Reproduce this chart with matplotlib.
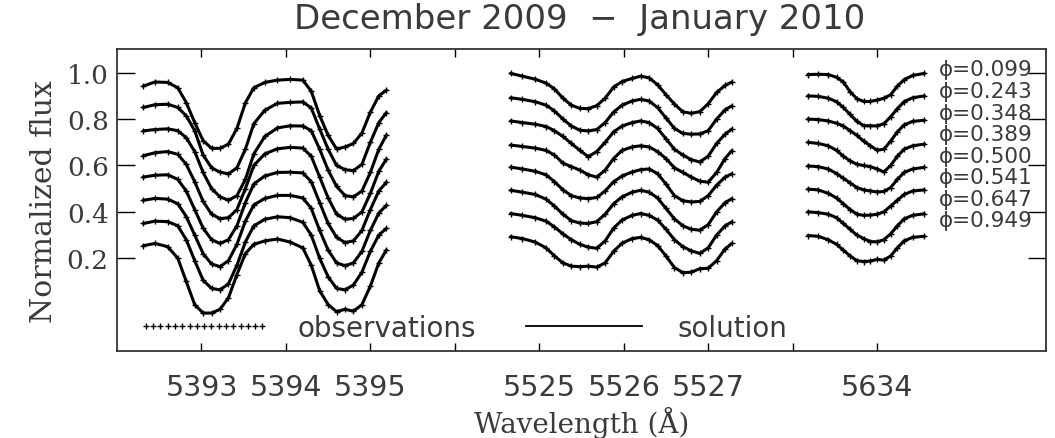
import numpy as np
import matplotlib
matplotlib.use("Agg")
import matplotlib.pyplot as plt
from matplotlib.lines import Line2D

# Rotational phases of the observed spectra (top to bottom)
phases = ["0.099", "0.243", "0.348", "0.389", "0.500", "0.541", "0.647", "0.949"]

# --- Fe I 5393 region -------------------------------------------------------
wl_5393 = [5392.31, 5392.45, 5392.60, 5392.72, 5392.82, 5392.92, 5393.02, 5393.12,
           5393.22, 5393.32, 5393.42, 5393.52, 5393.62, 5393.75, 5393.90, 5394.05,
           5394.20, 5394.30, 5394.40, 5394.50, 5394.60, 5394.70, 5394.80, 5394.90,
           5395.00, 5395.10, 5395.19]
flux_5393 = [
    [.942, .960, .958, .935, .871, .785, .707, .674, .674, .692, .760, .870, .935, .958,
     .968, .971, .968, .920, .815, .730, .671, .680, .695, .740, .830, .900, .925],
    [.950, .962, .964, .950, .914, .850, .745, .690, .671, .664, .690, .770, .880, .938,
     .968, .972, .974, .948, .857, .770, .700, .682, .678, .705, .800, .885, .928],
    [.949, .955, .958, .950, .920, .860, .770, .700, .665, .650, .670, .740, .850, .925,
     .962, .971, .970, .950, .870, .780, .710, .670, .665, .690, .770, .870, .931],
    [.942, .955, .960, .948, .905, .830, .745, .690, .671, .675, .710, .800, .900, .950,
     .972, .978, .975, .940, .850, .760, .690, .668, .672, .700, .780, .875, .928],
    [.950, .958, .960, .940, .890, .810, .730, .680, .664, .680, .740, .840, .920, .955,
     .970, .971, .968, .930, .840, .750, .690, .668, .675, .720, .810, .890, .928],
    [.950, .958, .955, .935, .880, .800, .720, .675, .664, .690, .760, .860, .930, .958,
     .971, .971, .960, .915, .820, .735, .680, .668, .680, .730, .820, .895, .928],
    [.950, .960, .958, .940, .880, .790, .705, .670, .664, .690, .770, .870, .940, .968,
     .979, .975, .955, .900, .800, .720, .670, .664, .685, .740, .830, .900, .929],
    [.954, .964, .950, .900, .800, .700, .664, .664, .680, .730, .830, .920, .960, .975,
     .983, .970, .945, .870, .760, .700, .670, .680, .672, .700, .780, .880, .936],
]

# --- 5526 region --------------------------------------------------------------
wl_5526 = [5524.66, 5524.80, 5524.95, 5525.08, 5525.18, 5525.28, 5525.38, 5525.48,
           5525.58, 5525.68, 5525.78, 5525.88, 5525.98, 5526.10, 5526.20, 5526.30,
           5526.40, 5526.50, 5526.60, 5526.70, 5526.80, 5526.90, 5527.00, 5527.10,
           5527.20, 5527.28]
flux_5526 = [
    [.997, .985, .972, .955, .930, .890, .860, .846, .845, .858, .890, .938, .962,
     .975, .985, .978, .948, .905, .865, .831, .825, .832, .866, .915, .945, .960],
    [.992, .985, .975, .960, .935, .900, .870, .852, .849, .855, .885, .930, .960,
     .978, .985, .978, .950, .905, .860, .838, .835, .836, .850, .900, .940, .957],
    [.992, .985, .978, .968, .950, .925, .895, .865, .838, .860, .900, .945, .970,
     .985, .992, .985, .960, .915, .870, .845, .825, .815, .840, .895, .935, .957],
    [.988, .982, .975, .965, .945, .910, .895, .880, .860, .850, .880, .930, .965,
     .980, .985, .980, .960, .930, .890, .870, .850, .832, .828, .870, .930, .964],
    [.993, .985, .975, .960, .930, .895, .870, .860, .857, .862, .890, .930, .955,
     .972, .982, .985, .965, .920, .870, .848, .843, .845, .870, .915, .950, .964],
    [.993, .985, .975, .955, .925, .890, .862, .852, .850, .858, .890, .935, .965,
     .985, .993, .985, .960, .915, .870, .840, .825, .821, .845, .900, .940, .957],
    [.993, .985, .975, .960, .935, .905, .880, .860, .848, .843, .875, .930, .965,
     .985, .993, .985, .965, .925, .880, .850, .832, .821, .845, .900, .940, .957],
    [.993, .985, .970, .945, .910, .880, .866, .864, .866, .862, .880, .930, .965,
     .985, .990, .980, .955, .910, .860, .838, .840, .855, .857, .890, .940, .964],
]

# --- 5634 region --------------------------------------------------------------
wl_5634 = [5633.18, 5633.30, 5633.42, 5633.52, 5633.60, 5633.68, 5633.76, 5633.84,
           5633.92, 5634.00, 5634.08, 5634.16, 5634.24, 5634.32, 5634.42, 5634.56]
flux_5634 = [
    [.992, .993, .992, .980, .960, .918, .888, .876, .876, .882, .890, .905, .942, .970, .988, .997],
    [1.00, .998, .990, .975, .950, .920, .890, .872, .871, .871, .880, .910, .945, .975, .992, 1.00],
    [1.00, .998, .992, .982, .970, .950, .930, .905, .885, .866, .870, .905, .945, .975, .990, .995],
    [1.00, .995, .985, .965, .940, .920, .905, .900, .895, .885, .872, .900, .940, .970, .985, .992],
    [.998, .995, .985, .965, .945, .925, .905, .895, .890, .886, .888, .905, .940, .970, .985, .992],
    [.998, .995, .980, .960, .935, .910, .890, .885, .886, .890, .900, .925, .950, .975, .990, .995],
    [1.00, .997, .990, .975, .950, .925, .900, .885, .872, .871, .880, .905, .940, .970, .985, .992],
    [.998, .995, .980, .960, .935, .910, .890, .886, .888, .895, .892, .910, .945, .975, .990, .995],
]

# Each region is drawn on a common axis: position = wavelength - shift
regions = [
    (wl_5393, flux_5393, 5393.0),
    (wl_5526, flux_5526, 5521.0),
    (wl_5634, flux_5634, 5626.0),
]
tick_labels = ["5393", "5394", "5395", "", "5525", "5526", "5527", "", "5634"]
step = 0.1  # vertical shift between consecutive phases

sans = "DejaVu Sans"
serif = "DejaVu Serif"
txt = "#3a3a3a"

fig = plt.figure(figsize=(10.55, 4.39), dpi=100)
ax = fig.add_axes([0.1109, 0.198, 0.8806, 0.687])

for wl, fluxes, shift in regions:
    x = np.asarray(wl) - shift
    for i, f in enumerate(fluxes):
        y = np.asarray(f) - step * i
        ax.plot(x, y, color="black", lw=2.2, solid_capstyle="round",
                solid_joinstyle="round", zorder=2)
        ax.plot(x, y, ls="none", marker="+", ms=4, mew=1.0, color="black", zorder=3)

# phase labels at the right
for i, ph in enumerate(phases):
    ax.text(8.73, 1.014 - 0.093 * i, "\u03d5=" + ph, fontsize=15.5, family=sans,
            color=txt, va="center", ha="left")

ax.set_xlim(-1.0, 10.0)
ax.set_ylim(-0.2, 1.1)
ax.set_xticks(range(len(tick_labels)))
ax.set_xticklabels(tick_labels, family=sans, fontsize=20.5, color=txt)
ax.set_yticks([0.2, 0.4, 0.6, 0.8, 1.0])
ax.set_yticklabels(["0.2", "0.4", "0.6", "0.8", "1.0"], family=serif, fontsize=19, color=txt)
ax.tick_params(axis="x", direction="in", length=6, width=1, top=True, pad=16)
ax.tick_params(axis="y", direction="in", length=13, width=1, right=True, pad=6)
for s in ax.spines.values():
    s.set_linewidth(1.3)
    s.set_color("#333333")

ax.set_ylabel("Normalized flux", family=serif, fontsize=21.5, color=txt, labelpad=6)
ax.set_xlabel("Wavelength (\u00c5)", family=serif, fontsize=20, color=txt, labelpad=3)

fig.text(0.549, 0.935, "December 2009  \u2212  January 2010", family=sans, fontsize=24.5,
         color=txt, ha="center", va="baseline")

handles = [
    Line2D([], [], ls="none", marker="+", ms=4.5, mew=1.0, color="black"),
    Line2D([], [], color="black", lw=1.3),
]
leg = ax.legend(handles, ["observations", "solution"], loc="center left",
                bbox_to_anchor=(0.022, 0.077), ncol=2, frameon=False, numpoints=17,
                handlelength=4.8, handletextpad=0.95, columnspacing=1.5,
                borderpad=0, borderaxespad=0,
                prop={"family": sans, "size": 20})
for t in leg.get_texts():
    t.set_color(txt)

fig.savefig("out.png", dpi=100)
